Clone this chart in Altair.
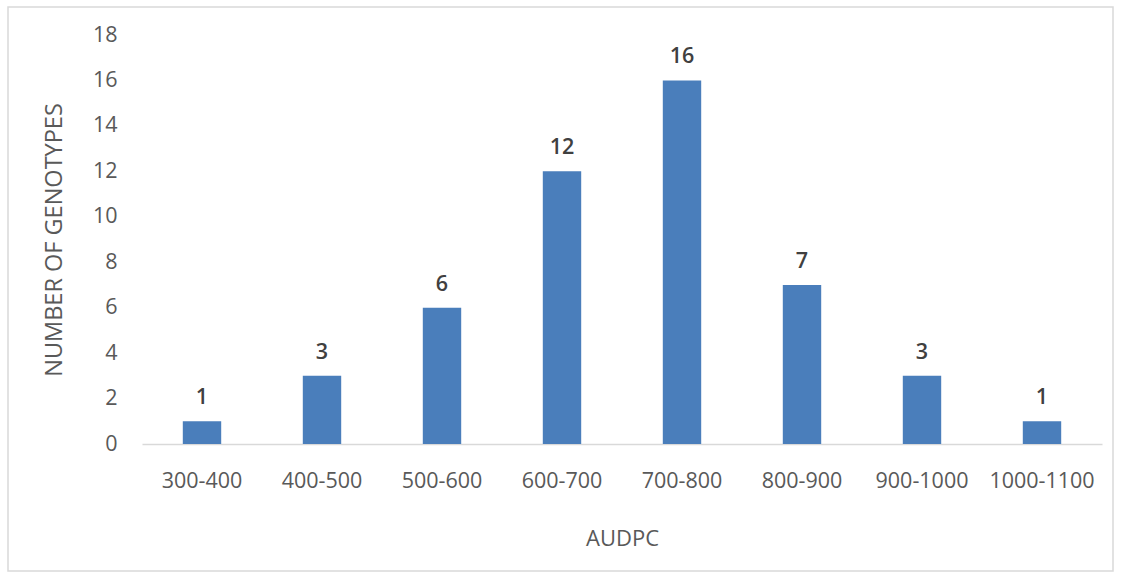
import altair as alt
import pandas as pd

ranges = ["300-400", "400-500", "500-600", "600-700", "700-800", "800-900", "900-1000", "1000-1100"]
counts = [1, 3, 6, 12, 16, 7, 3, 1]
y_ticks = [0, 2, 4, 6, 8, 10, 12, 14, 16, 18]

df = pd.DataFrame({"range": ranges, "count": counts})

FONT = "Open Sans"
GRAY = "#595959"

x_enc = alt.X(
    "range:N", sort=ranges,
    scale=alt.Scale(paddingInner=0.68, paddingOuter=0.34),
    axis=alt.Axis(
        title="AUDPC", labelAngle=0, ticks=False, domainColor="#d9d9d9", domainWidth=1.5,
        labelFont=FONT, labelFontSize=21.5, labelColor=GRAY, labelPadding=26,
        titleFont=FONT, titleFontSize=22, titleColor=GRAY, titleFontWeight="normal",
        titleY=94, titleBaseline="middle",
    ),
)
y_enc = alt.Y(
    "count:Q",
    scale=alt.Scale(domain=[0, 18]),
    axis=alt.Axis(
        title="NUMBER OF GENOTYPES", values=y_ticks, ticks=False, domain=False, grid=False,
        labelFont=FONT, labelFontSize=21.5, labelColor=GRAY, labelPadding=25,
        titleFont=FONT, titleFontSize=23.5, titleColor=GRAY, titleFontWeight="normal",
        titleX=-88, titleBaseline="middle",
    ),
)

bars = alt.Chart(df).mark_bar(color="#4a7ebb").encode(x=x_enc, y=y_enc)
labels = alt.Chart(df).mark_text(
    font=FONT, fontSize=21.5, color="#404040", fontWeight=600, baseline="alphabetic", dy=-17
).encode(x=alt.X("range:N", sort=ranges), y="count:Q", text="count:Q")

border = alt.Chart(pd.DataFrame({"a": [0]})).mark_rect(
    fill=None, stroke="#d9d9d9", strokeWidth=1.5
).encode(x=alt.value(-134), x2=alt.value(971), y=alt.value(-28), y2=alt.value(536))

chart = alt.layer(border, bars, labels).properties(
    width=960, height=409,
    autosize="none",
    padding={"left": 142, "top": 35, "right": 21, "bottom": 133},
).configure(background="white", view=alt.ViewConfig(stroke=None))

chart.save("out.html", embed_options={"renderer": "svg", "actions": False})
